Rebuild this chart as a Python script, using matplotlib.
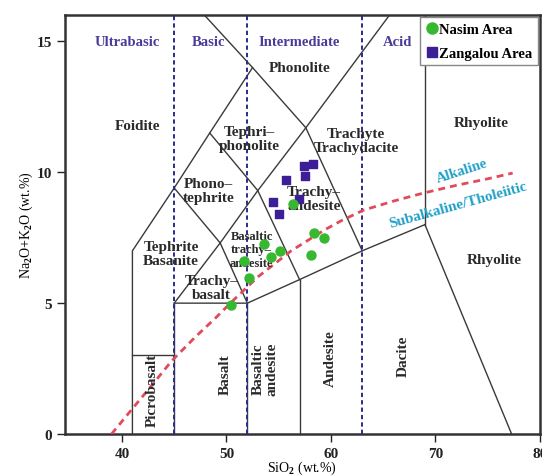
import matplotlib
matplotlib.use('Agg')
import matplotlib.pyplot as plt
from matplotlib.lines import Line2D

plt.rcParams['font.family'] = ['Liberation Serif', 'DejaVu Serif']
plt.rcParams['font.weight'] = 'bold'
plt.rcParams['mathtext.fontset'] = 'custom'
plt.rcParams['mathtext.rm'] = 'Liberation Serif:bold'
plt.rcParams['mathtext.it'] = 'Liberation Serif:bold'

# Sample data (SiO2, Na2O+K2O)
nasim_sio2 = [50.4, 52.2, 51.7, 53.6, 54.3, 55.1, 56.4, 58.1, 58.4, 59.3]
nasim_alk = [4.94, 5.96, 6.62, 7.27, 6.78, 7.0, 8.77, 6.83, 7.69, 7.49]
zangalou_sio2 = [58.3, 57.4, 57.5, 55.7, 56.9, 54.5, 55.0]
zangalou_alk = [10.3, 10.24, 9.86, 9.72, 8.96, 8.85, 8.4]

# Alkaline / subalkaline divide
divide_sio2 = [39.0, 41, 43, 44.75, 47, 49, 50.5, 53, 56.2, 59.4, 61, 63.1, 66, 68.8, 72, 75, 77.4]
divide_alk = [0.0, 0.97, 1.93, 2.79, 3.7, 4.45, 5.05, 6.0, 7.0, 7.8, 8.15, 8.55, 8.9, 9.2, 9.5, 9.75, 9.97]

# TAS field boundaries
fields = [
    [(41, 0), (41, 7), (45, 9.4), (48.4, 11.5), (52.5, 14), (47.9, 16)],
    [(41, 3), (45, 3)],
    [(45, 0), (45, 5)],
    [(52, 0), (52, 5)],
    [(45, 5), (52, 5), (57, 5.9), (63, 7), (69, 8)],
    [(45, 5), (49.4, 7.3), (52, 5)],
    [(49.4, 7.3), (53, 9.3), (57, 5.9)],
    [(45, 9.4), (49.4, 7.3)],
    [(48.4, 11.5), (53, 9.3), (57.6, 11.7), (63, 7)],
    [(52.5, 14), (57.6, 11.7), (65.6, 16)],
    [(57, 0), (57, 5.9)],
    [(69, 8), (69, 16)],
    [(69, 8), (77.3, 0)],
]
silica_bounds = [45, 52, 63]
silica_names = ['Ultrabasic', 'Basic', 'Intermediate', 'Acid']
silica_x = [40.5, 48.3, 57.0, 66.4]

field_labels = [
    ('Phonolite', 57.0, 14.0, 0),
    ('Foidite', 41.5, 11.8, 0),
    ('Tephri\u2013\nphonolite', 52.2, 11.3, 0),
    ('Trachyte\nTrachydacite', 62.4, 11.2, 0),
    ('Rhyolite', 74.4, 11.9, 0),
    ('Phono\u2013\ntephrite', 48.3, 9.3, 0),
    ('Trachy\u2013\nandesite', 58.4, 9.0, 0),
    ('Tephrite\nBasanite', 44.7, 6.9, 0),
    ('Trachy\u2013\nbasalt', 48.6, 5.6, 0),
    ('Rhyolite', 75.6, 6.65, 0),
    ('Picrobasalt', 42.9, 1.7, 90),
    ('Basalt', 49.9, 2.3, 90),
    ('Basaltic\nandesite', 53.7, 2.5, 90),
    ('Andesite', 59.9, 2.9, 90),
    ('Dacite', 66.9, 3.0, 90),
]

fig = plt.figure(figsize=(5.42, 4.77), dpi=100)
ax = fig.add_axes([0.12, 0.088, 0.876, 0.878])

for seg in fields:
    xs = [p[0] for p in seg]
    ys = [p[1] for p in seg]
    ax.plot(xs, ys, color='#3a3a3a', lw=1.0, zorder=2)

for xb in silica_bounds:
    ax.axvline(xb, color='#2c2a8c', lw=1.4, ls=(0, (2.2, 1.6)), zorder=3)

ax.plot(divide_sio2, divide_alk, color='#e04a5a', lw=2.0, ls=(0, (2.5, 1.8)), zorder=4)

for name, xc in zip(silica_names, silica_x):
    ax.text(xc, 15.0, name, color='#4a3a9a', fontsize=10.5, ha='center', va='center')

for txt, xc, yc, rot in field_labels:
    ax.text(xc, yc, txt, fontsize=11, ha='center', va='center', rotation=rot,
            linespacing=1.1, color='#2a2a2a', zorder=5)

# basaltic trachyandesite label sits over the points
ax.text(52.4, 7.05, 'Basaltic\ntrachy\u2013\nandesite', fontsize=9, ha='center', va='center',
        linespacing=1.2, color='#2a2a2a', zorder=5)

ax.text(72.6, 10.05, 'Alkaline', color='#21a0c8', fontsize=10.5, rotation=18,
        ha='center', va='center')
ax.text(72.2, 8.75, 'Subalkaline/Tholeiitic', color='#21a0c8', fontsize=11, rotation=15.5,
        ha='center', va='center')

ax.scatter(zangalou_sio2, zangalou_alk, marker='s', s=38, color='#3c1e96', zorder=6)
ax.scatter(nasim_sio2, nasim_alk, marker='o', s=42, color='#38b830', zorder=6)

handles = [
    Line2D([], [], marker='o', ls='none', color='#38b830', markersize=8),
    Line2D([], [], marker='s', ls='none', color='#3c1e96', markersize=7),
]
leg = ax.legend(handles, ['Nasim Area', 'Zangalou Area'], loc='upper right',
                bbox_to_anchor=(1.0, 1.0), borderaxespad=0.15, handletextpad=0.0,
                handlelength=1.0, fancybox=False, edgecolor='#888888', framealpha=1,
                prop={'weight': 'bold', 'size': 10.5}, borderpad=0.35, labelspacing=0.75)
leg.get_frame().set_linewidth(1.0)

ax.set_xlim(34.55, 80)
ax.set_ylim(0, 16)
ax.set_xticks([40, 50, 60, 70, 80])
ax.set_yticks([0, 5, 10, 15])
ax.tick_params(direction='out', length=6, width=1.0, labelsize=11, colors='#222222')
for lab in ax.get_xticklabels() + ax.get_yticklabels():
    lab.set_fontweight('bold')
for sp in ax.spines.values():
    sp.set_linewidth(1.8)
    sp.set_color('#333333')

ax.set_xlabel('SiO$_2$ (wt.%)', fontsize=10, labelpad=-1)
ax.set_ylabel('Na$_2$O+K$_2$O (wt.%)', fontsize=10, labelpad=1)

fig.savefig('out.png', dpi=100)
